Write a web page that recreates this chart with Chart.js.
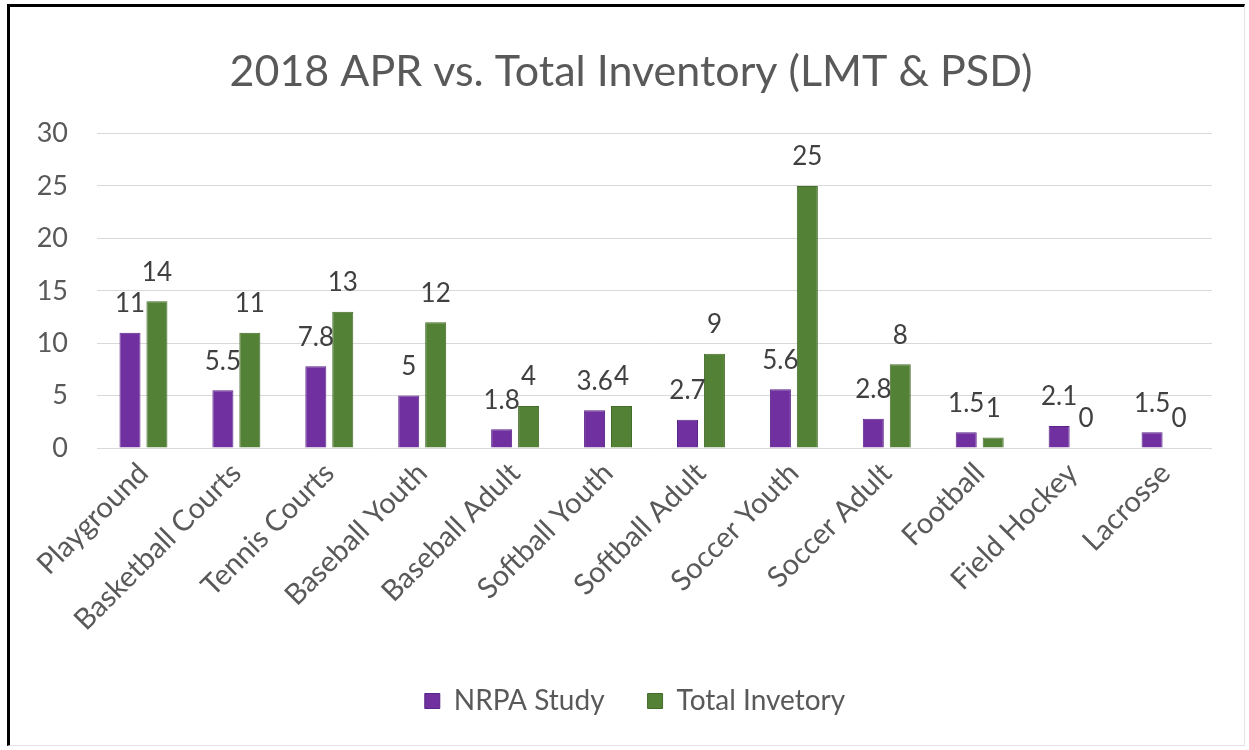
<!DOCTYPE html>
<html>
<head>
<meta charset="utf-8">
<script src="https://cdn.jsdelivr.net/npm/chart.js@4/dist/chart.umd.min.js"></script>
<style>
    body { margin: 0; background: #fff; }
    #frame {
        position: absolute; left: 7px; top: 4px; width: 1238px; height: 742px;
        box-sizing: border-box;
        border-left: 3px solid #000; border-top: 3px solid #000;
        border-right: 1px solid #e4e4e4; border-bottom: 1px solid #e4e4e4;
    }
    #chart { display: block; }
</style>
</head>
<body>
<div id="frame"><canvas id="chart" width="1234" height="738"></canvas></div>
<script>
    const categories = ['Playground', 'Basketball Courts', 'Tennis Courts', 'Baseball Youth', 'Baseball Adult',
        'Softball Youth', 'Softball Adult', 'Soccer Youth', 'Soccer Adult', 'Football', 'Field Hockey', 'Lacrosse']
    const nrpaStudy = [11, 5.5, 7.8, 5, 1.8, 3.6, 2.7, 5.6, 2.8, 1.5, 2.1, 1.5]
    const totalInventory = [14, 11, 13, 12, 4, 4, 9, 25, 8, 1, 0, 0]
    const yTicks = [0, 5, 10, 15, 20, 25, 30]

    const FONT = 'Lato, "Open Sans", sans-serif'
    const GRAY = '#595959'

    // value labels sitting above each bar
    const valueLabels = {
        id: 'valueLabels',
        afterDatasetsDraw(chart) {
            const ctx = chart.ctx
            ctx.save()
            ctx.font = '26px ' + FONT
            ctx.fillStyle = '#404040'
            ctx.textAlign = 'center'
            ctx.textBaseline = 'middle'
            chart.data.datasets.forEach((ds, i) => {
                chart.getDatasetMeta(i).data.forEach((bar, j) => {
                    ctx.fillText(String(ds.data[j]), bar.x, bar.y - 29)
                })
            })
            ctx.restore()
        }
    }

    // title and legend sit centred on the whole frame, not just the plot
    const centreOnFrame = {
        id: 'centreOnFrame',
        afterLayout(chart) {
            chart.legend.left += 24
            chart.legend.right += 24
            chart.titleBlock.left += 20
            chart.titleBlock.right += 20
        }
    }

    new Chart(document.getElementById('chart'), {
        type: 'bar',
        data: {
            labels: categories,
            datasets: [
                {
                    label: 'NRPA Study',
                    data: nrpaStudy,
                    backgroundColor: '#7030a0',
                    borderColor: '#5a2488',
                    borderWidth: 1,
                    categoryPercentage: 0.58,
                    barPercentage: 0.78,
                },
                {
                    label: 'Total Invetory',
                    data: totalInventory,
                    backgroundColor: '#538135',
                    borderColor: '#436b2a',
                    borderWidth: 1,
                    categoryPercentage: 0.58,
                    barPercentage: 0.78,
                },
            ]
        },
        options: {
            responsive: false,
            animation: false,
            layout: { padding: { top: 20, right: 32, bottom: 20, left: 0 } },
            plugins: {
                title: {
                    display: true,
                    text: '2018 APR vs. Total Inventory (LMT & PSD)',
                    color: GRAY,
                    font: { family: FONT, size: 43, weight: 'normal' },
                    padding: { top: 19, bottom: 36 },
                },
                legend: {
                    position: 'bottom',
                    labels: {
                        color: GRAY,
                        font: { family: FONT, size: 28 },
                        boxWidth: 15,
                        boxHeight: 15,
                        padding: 43,
                    }
                },
                tooltip: { enabled: false },
            },
            scales: {
                x: {
                    grid: { display: false },
                    border: { display: false },
                    ticks: {
                        color: GRAY,
                        font: { family: FONT, size: 29 },
                        autoSkip: false,
                        maxRotation: 45,
                        minRotation: 45,
                        padding: 0,
                    },
                    afterFit(scale) { scale.height = 196 },
                },
                y: {
                    min: 0,
                    max: 30,
                    afterBuildTicks(scale) { scale.ticks = yTicks.map(v => ({ value: v })) },
                    grid: { color: '#d9d9d9', drawTicks: false },
                    border: { display: false },
                    ticks: {
                        color: GRAY,
                        font: { family: FONT, size: 27 },
                        padding: 29,
                    },
                    afterFit(scale) { scale.width = 87 },
                }
            }
        },
        plugins: [valueLabels, centreOnFrame]
    })
</script>
</body>
</html>
